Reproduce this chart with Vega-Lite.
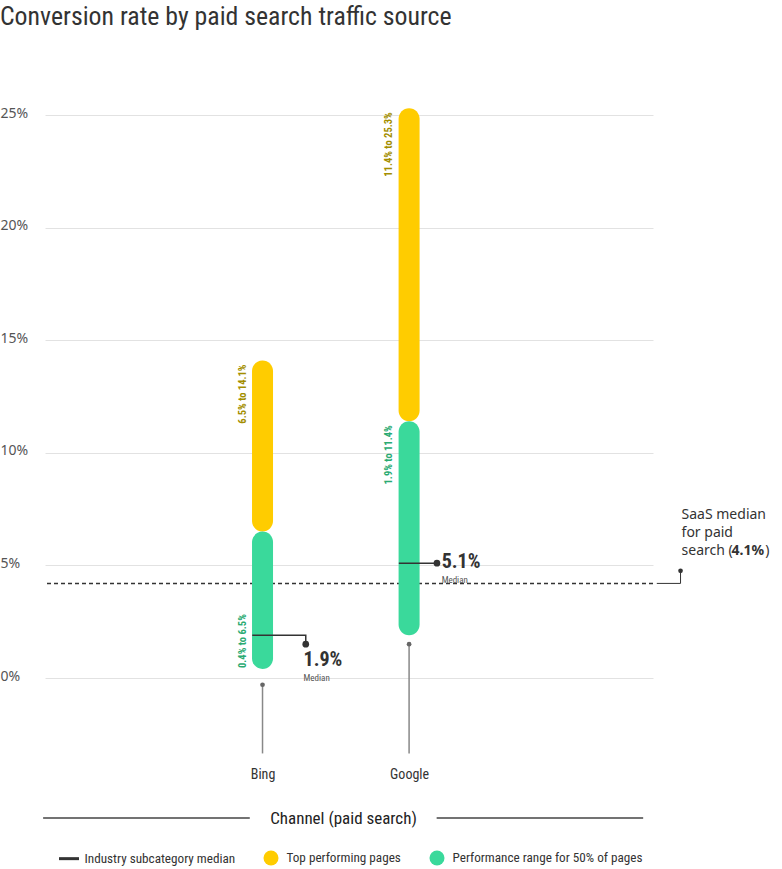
{
  "$schema": "https://vega.github.io/schema/vega-lite/v6.json",
  "width": 608,
  "height": 563,
  "autosize": {"type": "none"},
  "padding": {"left": 45, "top": 115, "right": 129, "bottom": 191},
  "background": "white",
  "title": {
    "text": "Conversion rate by paid search traffic source",
    "anchor": "start",
    "frame": "bounds",
    "baseline": "alphabetic",
    "offset": 55,
    "font": "Roboto Condensed, DejaVu Sans Condensed, Roboto, sans-serif",
    "fontSize": 25.8,
    "fontWeight": "normal",
    "color": "#333333"
  },
  "config": {
    "view": {"stroke": null},
    "font": "Roboto Condensed, DejaVu Sans Condensed, Roboto, sans-serif"
  },
  "datasets": {
    "bars": [
      {"channel": "Bing", "pos": 1, "series": "Top performing pages", "lo": 6.5, "hi": 14.1, "label": "6.5% to 14.1%"},
      {"channel": "Bing", "pos": 1, "series": "Performance range for 50% of pages", "lo": 0.4, "hi": 6.5, "label": "0.4% to 6.5%"},
      {"channel": "Google", "pos": 2, "series": "Top performing pages", "lo": 11.4, "hi": 25.3, "label": "11.4% to 25.3%"},
      {"channel": "Google", "pos": 2, "series": "Performance range for 50% of pages", "lo": 1.9, "hi": 11.4, "label": "1.9% to 11.4%"}
    ],
    "medlines": [
      {"channel": "Bing", "o": 1, "x": 0.93, "y": 1.9},
      {"channel": "Bing", "o": 2, "x": 1.295, "y": 1.9},
      {"channel": "Bing", "o": 3, "x": 1.295, "y": 1.5},
      {"channel": "Google", "o": 1, "x": 1.93, "y": 5.1},
      {"channel": "Google", "o": 2, "x": 2.19, "y": 5.1}
    ],
    "meddots": [
      {"channel": "Bing", "x": 1.295, "y": 1.5},
      {"channel": "Google", "x": 2.19, "y": 5.1}
    ],
    "medvals": [
      {"channel": "Bing", "x": 1.28, "y": 0.78, "ly": 0.02, "text": "1.9%"},
      {"channel": "Google", "x": 2.222, "y": 5.13, "ly": 4.37, "text": "5.1%"}
    ],
    "saasline": [
      {"o": 1, "x": 3.69, "y": 4.2},
      {"o": 2, "x": 3.852, "y": 4.2},
      {"o": 3, "x": 3.852, "y": 4.76}
    ],
    "saastext": [
      {"x": 3.859, "y": 7.24, "text": "SaaS median"},
      {"x": 3.859, "y": 6.44, "text": "for paid"},
      {"x": 3.859, "y": 5.64, "text": "search ("},
      {"x": 4.43, "y": 5.64, "text": ")"}
    ],
    "stems": [
      {"channel": "Bing", "x": 1, "y": -0.3, "y2": -3.35},
      {"channel": "Google", "x": 2, "y": 1.5, "y2": -3.35}
    ],
    "flank": [
      {"x": -0.497, "x2": 0.913, "y": -6.22},
      {"x": 2.188, "x2": 3.597, "y": -6.22}
    ]
  },
  "layer": [
    {
      "data": {"values": [{"series": "Industry subcategory median", "y": 4.2}]},
      "mark": {"type": "rule", "strokeDash": [4, 3], "strokeWidth": 1.5},
      "encoding": {
        "y": {
          "field": "y", "type": "quantitative",
          "scale": {"domain": [0, 25], "nice": false, "zero": false},
          "axis": {
            "values": [0, 5, 10, 15, 20, 25],
            "labelExpr": "datum.value + '%'",
            "title": null,
            "domain": false,
            "ticks": false,
            "tickSize": 0,
            "grid": true,
            "gridColor": "#e2e2e2",
            "gridWidth": 1,
            "labelAlign": "left",
            "labelBaseline": "alphabetic",
            "labelPadding": 45,
            "labelOffset": 2,
            "labelFont": "Noto Sans",
            "labelFontSize": 14,
            "labelColor": "#555555"
          }
        },
        "color": {
          "field": "series", "type": "nominal",
          "scale": {
            "domain": ["Industry subcategory median", "Top performing pages", "Performance range for 50% of pages"],
            "range": ["#333333", "#FFCC00", "#3AD99B"]
          },
          "legend": {
            "orient": "none",
            "legendX": 16.5,
            "legendY": 735.5,
            "direction": "horizontal",
            "title": null,
            "padding": 0,
            "symbolSize": 225,
            "symbolType": {"expr": "datum.value === 'Industry subcategory median' ? 'M-1.33,-0.2H1.33V0.2H-1.33Z' : 'circle'"},
            "symbolStrokeWidth": 0,
            "symbolOpacity": 1,
            "columnPadding": 28,
            "labelOffset": 8,
            "labelFontSize": 13.2,
            "labelColor": "#333333",
            "labelLimit": 400,
            "encoding": {
              "symbols": {
                "fill": {"scale": "color", "field": "value"},
                "stroke": {"value": "transparent"},
                "strokeDash": {"value": []},
                "opacity": {"value": 1},
                "fillOpacity": {"value": 1}
              }
            }
          }
        }
      }
    },
    {
      "data": {"name": "bars"},
      "mark": {"type": "bar", "width": 21, "cornerRadius": 10.5},
      "encoding": {
        "x": {
          "field": "pos", "type": "quantitative",
          "scale": {"domain": [-0.45, 3.63], "nice": false, "zero": false},
          "axis": {
            "values": [1, 2],
            "labelExpr": "datum.value == 1 ? 'Bing' : 'Google'",
            "domain": false,
            "ticks": false,
            "tickSize": 0,
            "grid": false,
            "labelBaseline": "alphabetic",
            "labelPadding": 100,
            "labelFontSize": 14,
            "labelColor": "#333333",
            "title": "Channel (paid search)",
            "titleX": 298,
            "titleY": 140,
            "titleAlign": "center",
            "titleBaseline": "middle",
            "titleFontSize": 17,
            "titleFontWeight": "normal",
            "titleColor": "#222222"
          }
        },
        "y": {"field": "lo", "type": "quantitative"},
        "y2": {"field": "hi"},
        "color": {"field": "series", "type": "nominal"}
      }
    },
    {
      "data": {"name": "bars"},
      "transform": [{"filter": "!(datum.channel === 'Bing' && datum.series === 'Performance range for 50% of pages')"}],
      "mark": {"type": "text", "angle": 270, "align": "right", "baseline": "middle", "dx": -4, "dy": -20, "fontSize": 10.5, "fontWeight": "bold"},
      "encoding": {
        "x": {"field": "pos", "type": "quantitative"},
        "y": {"field": "hi", "type": "quantitative"},
        "text": {"field": "label"},
        "color": {"condition": {"test": "datum.series === 'Top performing pages'", "value": "#A38E00"}, "value": "#2AAA72"}
      }
    },
    {
      "data": {"name": "bars"},
      "transform": [{"filter": "datum.channel === 'Bing' && datum.series === 'Performance range for 50% of pages'"}],
      "mark": {"type": "text", "angle": 270, "align": "left", "baseline": "middle", "dx": 1, "dy": -20, "fontSize": 10.5, "fontWeight": "bold", "color": "#2AAA72"},
      "encoding": {
        "x": {"field": "pos", "type": "quantitative"},
        "y": {"field": "lo", "type": "quantitative"},
        "text": {"field": "label"}
      }
    },
    {
      "data": {"name": "medlines"},
      "mark": {"type": "line", "color": "#333333", "strokeWidth": 1.5},
      "encoding": {
        "x": {"field": "x", "type": "quantitative"},
        "y": {"field": "y", "type": "quantitative"},
        "detail": {"field": "channel"},
        "order": {"field": "o"}
      }
    },
    {
      "data": {"name": "meddots"},
      "mark": {"type": "point", "filled": true, "size": 45, "color": "#333333", "opacity": 1},
      "encoding": {
        "x": {"field": "x", "type": "quantitative"},
        "y": {"field": "y", "type": "quantitative"}
      }
    },
    {
      "data": {"name": "medvals"},
      "mark": {"type": "text", "align": "left", "baseline": "middle", "fontSize": 20, "fontWeight": "bold", "color": "#333333"},
      "encoding": {
        "x": {"field": "x", "type": "quantitative"},
        "y": {"field": "y", "type": "quantitative"},
        "text": {"field": "text"}
      }
    },
    {
      "data": {"name": "medvals"},
      "mark": {"type": "text", "align": "left", "baseline": "middle", "fontSize": 9, "color": "#555555"},
      "encoding": {
        "x": {"field": "x", "type": "quantitative"},
        "y": {"field": "ly", "type": "quantitative"},
        "text": {"value": "Median"}
      }
    },
    {
      "data": {"name": "saasline"},
      "mark": {"type": "line", "color": "#333333", "strokeWidth": 1},
      "encoding": {
        "x": {"field": "x", "type": "quantitative"},
        "y": {"field": "y", "type": "quantitative"},
        "order": {"field": "o"}
      }
    },
    {
      "data": {"values": [{"x": 3.852, "y": 4.76}]},
      "mark": {"type": "point", "filled": true, "size": 22, "color": "#333333", "opacity": 1},
      "encoding": {
        "x": {"field": "x", "type": "quantitative"},
        "y": {"field": "y", "type": "quantitative"}
      }
    },
    {
      "data": {"name": "saastext"},
      "mark": {"type": "text", "align": "left", "baseline": "middle", "font": "Noto Sans", "fontSize": 14, "color": "#333333"},
      "encoding": {
        "x": {"field": "x", "type": "quantitative"},
        "y": {"field": "y", "type": "quantitative"},
        "text": {"field": "text"}
      }
    },
    {
      "data": {"values": [{"x": 4.2, "y": 5.64, "text": "4.1%"}]},
      "mark": {"type": "text", "align": "left", "baseline": "middle", "font": "Noto Sans", "fontSize": 14, "fontWeight": "bold", "color": "#333333"},
      "encoding": {
        "x": {"field": "x", "type": "quantitative"},
        "y": {"field": "y", "type": "quantitative"},
        "text": {"field": "text"}
      }
    },
    {
      "data": {"name": "stems"},
      "mark": {"type": "rule", "color": "#888888", "strokeWidth": 1.5},
      "encoding": {
        "x": {"field": "x", "type": "quantitative"},
        "y": {"field": "y", "type": "quantitative"},
        "y2": {"field": "y2"}
      }
    },
    {
      "data": {"name": "stems"},
      "mark": {"type": "point", "filled": true, "size": 22, "color": "#666666", "opacity": 1},
      "encoding": {
        "x": {"field": "x", "type": "quantitative"},
        "y": {"field": "y", "type": "quantitative"}
      }
    },
    {
      "data": {"name": "flank"},
      "mark": {"type": "rule", "color": "#444444", "strokeWidth": 1.5},
      "encoding": {
        "x": {"field": "x", "type": "quantitative"},
        "x2": {"field": "x2"},
        "y": {"field": "y", "type": "quantitative"}
      }
    }
  ]
}
